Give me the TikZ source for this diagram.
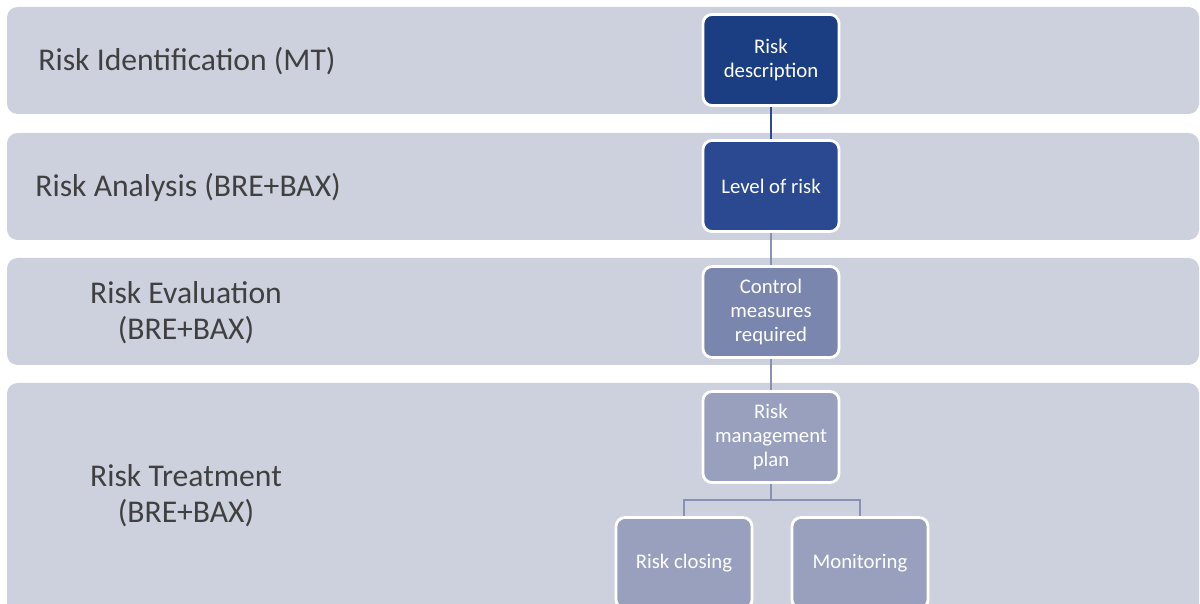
\documentclass[tikz,border=0pt]{standalone}
\usepackage{fontspec}
\setmainfont{Carlito}
\usepackage{xcolor}

\definecolor{bandgray}{HTML}{CDD1DE}
\definecolor{labelgray}{HTML}{404040}
\definecolor{navyone}{HTML}{1B3E82}
\definecolor{navytwo}{HTML}{2A4991}
\definecolor{slateone}{HTML}{7B86AF}
\definecolor{slatetwo}{HTML}{98A0BE}
\definecolor{linkdark}{HTML}{2D4A8C}
\definecolor{linklight}{HTML}{8890B4}

\tikzset{
    band/.style={fill=bandgray, rounded corners=3pt},
    bandlabel/.style={text=labelgray, align=center, font=\fontsize{9}{10.2}\selectfont},
    stepbox/.style={draw=white, line width=0.8pt, rounded corners=2.6pt, text=white,
        minimum width=1.36cm, minimum height=0.91cm, align=center,
        font=\fontsize{5.9}{6.8}\selectfont},
    link/.style={line width=0.6pt}
}

\begin{document}
\begin{tikzpicture}[x=0.01cm, y=-0.01cm]

    \useasboundingbox (0, 0) rectangle (1200, 604);
    \clip (0, 0) rectangle (1200, 604);

    % Bands in the back
    \fill[band] (7, 7) rectangle (1199, 114);
    \fill[band] (7, 133) rectangle (1199, 240);
    \fill[band] (7, 258) rectangle (1199, 365);
    \fill[band] (7, 383) rectangle (1199, 620);

    \node[bandlabel, anchor=west] (ident) at (26, 61) {Risk Identification (MT)};
    \node[bandlabel, anchor=west] (analysis) at (23, 187) {Risk Analysis (BRE+BAX)};
    \node[bandlabel] (evaluation) at (186, 313) {Risk Evaluation\\(BRE+BAX)};
    \node[bandlabel] (treatment) at (186, 496) {Risk Treatment\\(BRE+BAX)};

    % Boxes of the steps
    \node[stepbox, fill=navyone] (desc) at (771, 60) {Risk\\description};
    \node[stepbox, fill=navytwo] (level) at (771, 186) {Level of risk};
    \node[stepbox, fill=slateone] (control) at (771, 312) {Control\\measures\\required};
    \node[stepbox, fill=slatetwo] (plan) at (771, 437) {Risk\\management\\plan};

    \node[stepbox, fill=slatetwo] (closing) at (684, 563) {Risk closing};
    \node[stepbox, fill=slatetwo] (monitor) at (860, 563) {Monitoring};

    \coordinate (fork) at (771, 500);

    \draw[link, linkdark] (desc) -- (level);
    \draw[link, linklight] (level) -- (control);
    \draw[link, linklight] (control) -- (plan);
    \draw[link, linklight] (plan) -- (fork);
    \draw[link, linklight] (fork) -| (closing);
    \draw[link, linklight] (fork) -| (monitor);

\end{tikzpicture}
\end{document}
